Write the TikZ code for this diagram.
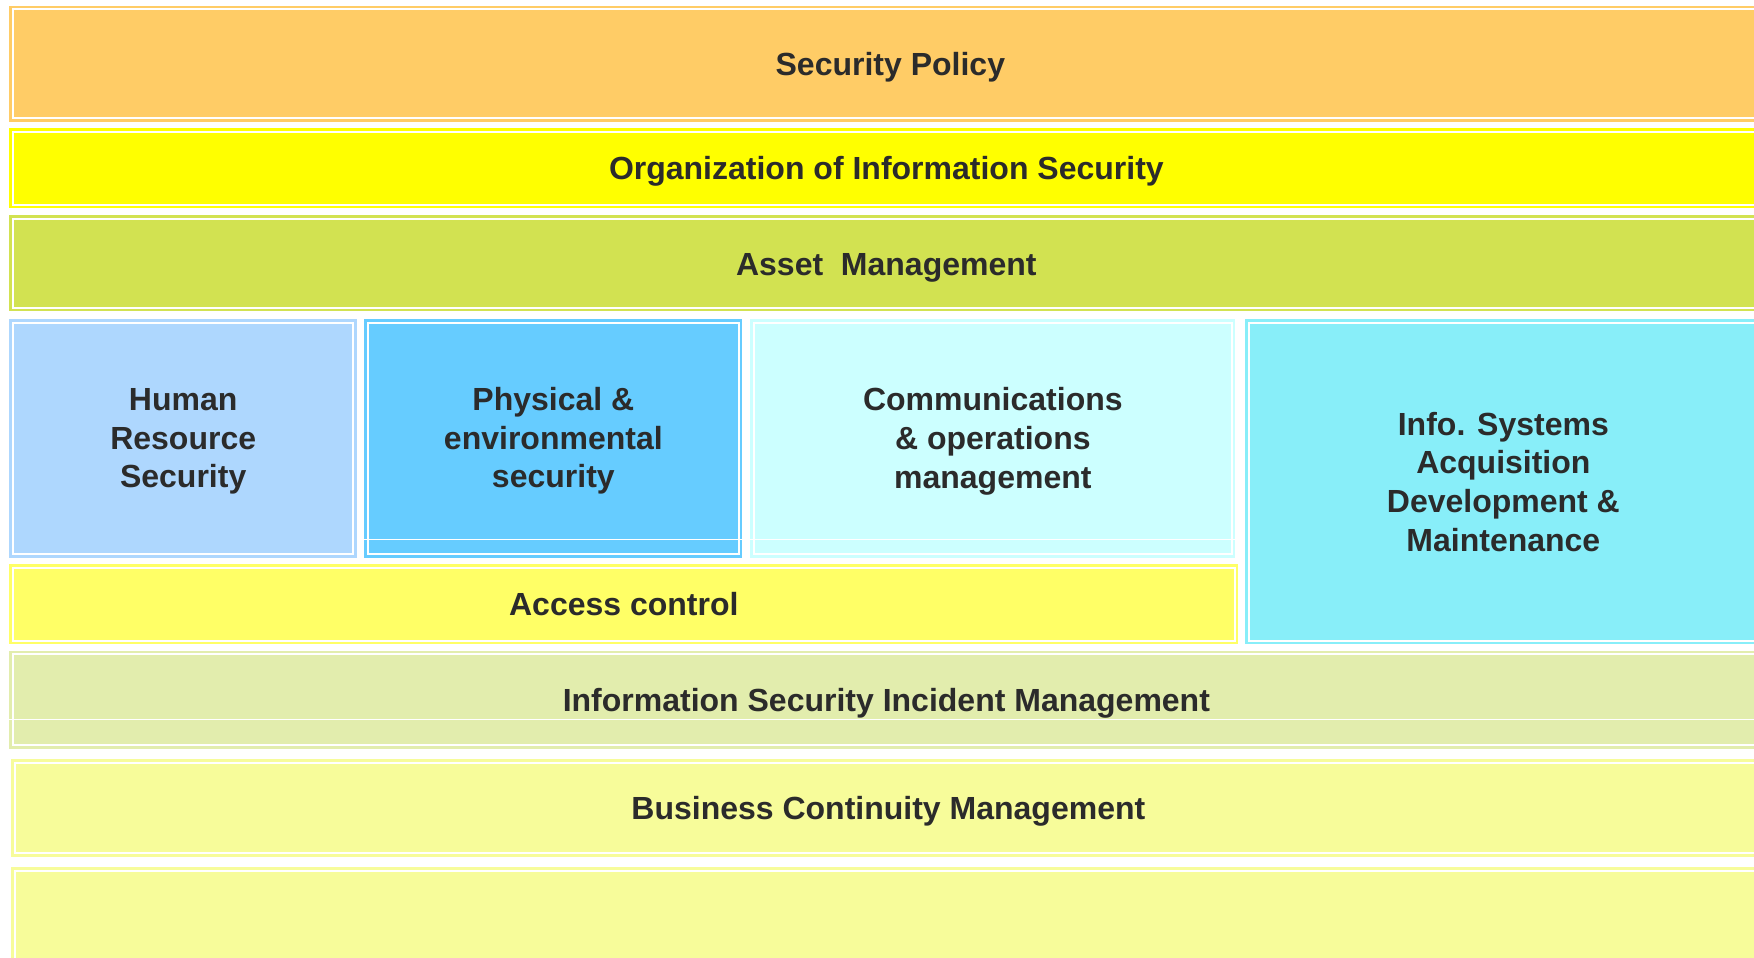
\documentclass[tikz,border=0pt]{standalone}
\usepackage{fontspec}
\setmainfont{Liberation Sans}
\definecolor{spc}{HTML}{FFCC66}
\definecolor{orgc}{HTML}{FFFF00}
\definecolor{assetc}{HTML}{D2E251}
\definecolor{hrc}{HTML}{AED7FE}
\definecolor{physc}{HTML}{66CCFF}
\definecolor{commc}{HTML}{CCFFFF}
\definecolor{infoc}{HTML}{88EEF9}
\definecolor{accc}{HTML}{FFFF66}
\definecolor{incc}{HTML}{E2EDAD}
\definecolor{bcmc}{HTML}{F7FC9A}
\definecolor{txtc}{HTML}{2B2B2B}
\begin{document}
\begin{tikzpicture}[x=1pt,y=-1pt,
  cell/.style={rectangle, anchor=north west, draw=#1, fill=#1, double=white,
    double distance=2pt, line width=2.7pt, inner sep=0pt},
  txt/.style={inner sep=0pt, align=center, text=txtc,
    font=\bfseries\fontsize{32}{38.6}\selectfont},
  stray/.style={draw=white, line width=1pt}]
\useasboundingbox (0,0) rectangle (1754,958);
\clip (0,0) rectangle (1754,958);
\fill[white] (0,0) rectangle (1754,958);
\node[cell=spc, minimum width=1754.6pt, minimum height=109pt] (sp) at (11.7,8) {};
\node[cell=orgc, minimum width=1746.6pt, minimum height=72.9pt] (org) at (11.7,130.4) {};
\node[cell=assetc, minimum width=1746.6pt, minimum height=89pt] (asset) at (11.7,217.3) {};
\node[cell=hrc, minimum width=340.3pt, minimum height=231.6pt] (hr) at (11.7,321.4) {};
\node[cell=physc, minimum width=370.6pt, minimum height=231.6pt] (phys) at (366.7,321.4) {};
\node[cell=commc, minimum width=477.6pt, minimum height=231.3pt] (comm) at (752.7,321.7) {};
\node[cell=accc, minimum width=1221.6pt, minimum height=73pt] (acc) at (11.7,566.3) {};
\node[cell=infoc, minimum width=508.6pt, minimum height=317.6pt] (info) at (1247.7,321.7) {};
\node[cell=incc, minimum width=1746.6pt, minimum height=91pt] (inc) at (11.7,653) {};
\node[cell=bcmc, minimum width=1746.6pt, minimum height=90.6pt] (bcm) at (13.7,761.4) {};
\node[cell=bcmc, minimum width=1746.6pt, minimum height=150pt] (last) at (13.7,869.7) {};
\coordinate (s1a) at (363,539);
\coordinate (s1b) at (1237,539);
\draw[stray] (s1a) -- (s1b);
\coordinate (s2a) at (8,719.3);
\coordinate (s2b) at (1754,719.3);
\draw[stray] (s2a) -- (s2b);
\node[txt] (spt) at ([yshift=-3.4pt]sp.center) {Security Policy};
\node[txt] (orgt) at ([yshift=-3.4pt]org.center) {Organization of Information Security};
\node[txt] (assett) at ([yshift=-5pt]asset.center) {Asset\ \ Management};
\node[txt] (hrt) at ([yshift=-3pt]hr.center) {Human\\Resource\\Security};
\node[txt] (physt) at ([yshift=-2.5pt]phys.center) {Physical \&\\environmental\\security};
\node[txt] (commt) at ([yshift=-2.5pt]comm.center) {Communications\\\& operations\\management};
\node[txt] (acct) at (acc.center) {Access control};
\node[txt] (infot) at (info.center) {Info. Systems\\Acquisition\\Development \&\\Maintenance};
\node[txt] (inct) at ([yshift=-3.4pt]inc.center) {Information Security Incident Management};
\node[txt] (bcmt) at ([yshift=-3.4pt]bcm.center) {Business Continuity Management};
\end{tikzpicture}
\end{document}
